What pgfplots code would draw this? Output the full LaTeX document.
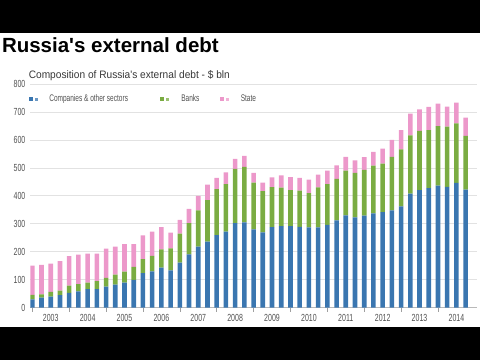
\documentclass[border=0pt]{standalone}
\usepackage{fontspec}
\usepackage{pgfplots}
\usepackage{pgfplotstable}
\pgfplotsset{compat=1.18}
\newfontfamily\lsans{Liberation Sans}
\newfontfamily\subfont[FakeStretch=0.94]{Liberation Sans}
\newfontfamily\cond[FakeStretch=0.68]{Liberation Sans}
\definecolor{cblue}{RGB}{58,118,176}
\definecolor{cgreen}{RGB}{122,172,66}
\definecolor{cpink}{RGB}{236,152,202}
\definecolor{labelgray}{RGB}{80,80,80}
\definecolor{subgray}{RGB}{55,55,55}
\definecolor{gridgray}{RGB}{226,226,226}
\pgfplotstableread{
x c b s
0 29 16 105
1 35 12 106
2 39 17 101
3 44 16 106
4 52 26 106
5 58 26 105
6 66 23 104
7 66 28 99
8 75 31 105
9 82 36 100
10 89 39 99
11 99 46 82
12 123 50 85
13 129 56 87
14 143 65 80
15 133 79 56
16 161 103 50
17 190 112 51
18 218 130 52
19 236 148 56
20 259 165 40
21 272 170 42
22 302 194 36
23 305 198 40
24 280 167 35
25 269 148 30
26 288 143 35
27 291 138 44
28 291 129 47
29 289 129 46
30 287 122 49
31 287 143 46
32 296 146 48
33 312 148 49
34 330 160 49
35 323 159 45
36 329 164 45
37 337 171 49
38 341 174 54
39 348 191 61
40 362 204 69
41 408 208 78
42 420 212 77
43 427 208 83
44 436 213 81
45 432 215 72
46 446 213 74
47 422 192 66
}\data
\begin{document}
\begin{tikzpicture}[x=1pt,y=1pt]
\useasboundingbox (0,0) rectangle (480,360);
\fill[black] (0,327) rectangle (480,360);
\fill[black] (0,0) rectangle (480,33.3);
\node[anchor=base west, inner sep=0pt, font=\lsans\bfseries\fontsize{20.5}{24}\selectfont] at (1.8,308) {Russia's external debt};
\node[anchor=base west, inner sep=0pt, font=\subfont\fontsize{10.8}{12}\selectfont, text=subgray] at (28.6,281.4) {Composition of Russia's external debt - \$ bln};
\begin{axis}[
  at={(30.5pt,52.5pt)}, anchor=south west, scale only axis,
  width=446.2pt, height=223.5pt,
  xmin=-0.195, xmax=48.2, ymin=0, ymax=800,
  ybar stacked, bar width=4.6pt,
  axis lines*=left,
  y axis line style={draw=none},
  x axis line style={draw=gray!55, line width=0.6pt},
  ytick={0,100,...,800},
  ymajorgrids, grid style={draw=gridgray, line width=0.6pt},
  ytick style={draw=none},
  yticklabel style={font=\cond\fontsize{10.3}{10}\selectfont, text=labelgray, xshift=2.4pt},
  xtick={0,4,...,44}, xticklabels={},
  tick align=outside,
  x tick style={draw=gray!75, line width=0.6pt},
  major tick length=4pt,
  extra x ticks={2,6,...,46},
  extra x tick labels={2003,2004,2005,2006,2007,2008,2009,2010,2011,2012,2013,2014},
  extra x tick style={major tick length=0pt, x tick style={draw=none}},
  xticklabel style={font=\cond\fontsize{10.3}{10}\selectfont, text=labelgray, yshift=-3.2pt},
  /pgf/number format/assume math mode=true,
  legend columns=3,
  legend cell align=left,
  legend style={at={(-0.0027,0.932)}, anchor=west, draw=none, fill=none,
    inner sep=0pt, outer sep=0pt, column sep=0pt,
    nodes={inner sep=0pt, outer sep=0pt},
    font=\cond\fontsize{9.6}{10}\selectfont, text=labelgray},
]
\addplot[fill=cblue, draw=none,
  legend image code/.code={\fill[cblue] (0pt,-2.3pt) rectangle (4pt,2.3pt);
    \fill[cblue!75!white] (5.5pt,-1.6pt) rectangle (8.5pt,1.6pt);}]
  table[x=x,y=c]{\data};
\addlegendentry{\hspace{11.5pt}\makebox[111pt][l]{Companies \& other sectors}}
\addplot[fill=cgreen, draw=none,
  legend image code/.code={\fill[cgreen] (0pt,-2.3pt) rectangle (4pt,2.3pt);
    \fill[cgreen!75!white] (5.5pt,-1.6pt) rectangle (8.5pt,1.6pt);}]
  table[x=x,y=b]{\data};
\addlegendentry{\hspace{12.5pt}\makebox[39pt][l]{Banks}}
\addplot[fill=cpink, draw=none,
  legend image code/.code={\fill[cpink] (0pt,-2.3pt) rectangle (4pt,2.3pt);
    \fill[cpink!75!white] (5.5pt,-1.6pt) rectangle (8.5pt,1.6pt);}]
  table[x=x,y=s]{\data};
\addlegendentry{\hspace{12pt}State}
\end{axis}
\end{tikzpicture}
\end{document}
